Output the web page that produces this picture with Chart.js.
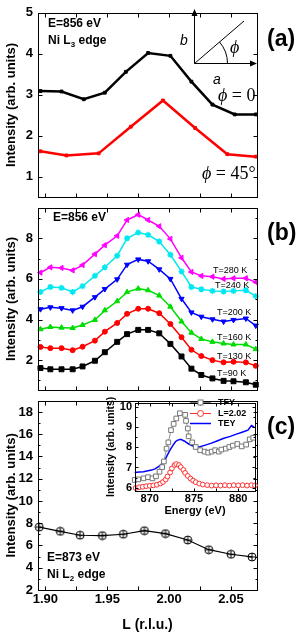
<!DOCTYPE html>
<html lang="en">
<head>
<meta charset="UTF-8">
<title>Ni L edge: intensity vs L</title>
<script src="https://cdn.jsdelivr.net/npm/chart.js"></script>
<style>
    body { margin: 0; background: #fff; }
    #fig {
        position: relative;
        width: 299px;
        height: 632px;
        overflow: hidden;
        font-family: "Liberation Sans", Arial, sans-serif;
        color: #000;
    }
    .box { position: absolute; }
    .t { position: absolute; transform: translateY(-50%); line-height: 1; white-space: nowrap; }
    .b12 { font-weight: bold; font-size: 12px; }
    .big { font-weight: bold; font-size: 23px; }
    .phi { font-family: "Liberation Serif", "Times New Roman", serif; font-size: 18px; }
    .ax { font-style: italic; font-size: 14px; }
    .tk { font-size: 9px; }
    .lg { font-weight: bold; font-size: 9px; }
    sub { font-size: 8px; vertical-align: baseline; position: relative; top: 3px; }
</style>
</head>
<body>
<div id="fig">
    <div class="box" style="left:0;top:0;width:299px;height:210px"><canvas id="panelA"></canvas></div>
    <div class="box" style="left:0;top:195px;width:299px;height:208px"><canvas id="panelB"></canvas></div>
    <div class="box" style="left:0;top:388px;width:299px;height:244px"><canvas id="panelC"></canvas></div>
    <div class="box" style="left:95px;top:393px;width:165px;height:135px"><canvas id="inset"></canvas></div>

    <!-- panel (a) -->
    <div class="t b12" style="left:48px;top:23px">E=856 eV</div>
    <div class="t b12" style="left:48px;top:40px">Ni L<sub>3</sub> edge</div>
    <div class="t big" style="left:267px;top:38px">(a)</div>
    <div class="t ax" style="left:180px;top:40px">b</div>
    <div class="t ax" style="left:213px;top:79px">a</div>
    <div class="t phi" style="left:230px;top:47px"><i>ϕ</i></div>
    <div class="t phi" style="left:218px;top:95px"><i>ϕ</i> = 0</div>
    <div class="t phi" style="left:202px;top:173px"><i>ϕ</i> = 45°</div>

    <!-- panel (b) -->
    <div class="t b12" style="left:53px;top:217px">E=856 eV</div>
    <div class="t big" style="left:267px;top:232px">(b)</div>
    <div class="t tk" style="left:213px;top:270px">T=280 K</div>
    <div class="t tk" style="left:215px;top:285px">T=240 K</div>
    <div class="t tk" style="left:217px;top:312px">T=200 K</div>
    <div class="t tk" style="left:217px;top:337px">T=160 K</div>
    <div class="t tk" style="left:217px;top:356px">T=130 K</div>
    <div class="t tk" style="left:217px;top:373px">T=90 K</div>

    <!-- panel (c) -->
    <div class="t b12" style="left:47px;top:557px">E=873 eV</div>
    <div class="t b12" style="left:47px;top:574px">Ni L<sub>2</sub> edge</div>
    <div class="t big" style="left:267px;top:426px">(c)</div>
    <div class="t lg" style="left:218px;top:402px">TFY</div>
    <div class="t lg" style="left:218px;top:413px">L=2.02</div>
    <div class="t lg" style="left:218px;top:423px">TEY</div>
</div>

<script>
    // ---- data ----
    // (a) E=856 eV, Ni L3 edge
    var L_A0 = [1.896, 1.913, 1.931, 1.948, 1.965, 1.983, 2.001, 2.018, 2.035, 2.053, 2.070];
    var I_A0 = [3.09, 3.08, 2.89, 3.05, 3.56, 4.02, 3.95, 3.32, 2.76, 2.52, 2.52];      // phi = 0
    var L_A45 = [1.896, 1.917, 1.943, 1.969, 1.995, 2.021, 2.047, 2.070];
    var I_A45 = [1.62, 1.52, 1.57, 2.22, 2.86, 2.19, 1.55, 1.49];                     // phi = 45

    // (b) E=856 eV, temperature series
    var L_B = [1.896, 1.904, 1.913, 1.922, 1.930, 1.940, 1.948, 1.958, 1.966, 1.975, 1.983,
               1.992, 2.001, 2.010, 2.018, 2.026, 2.035, 2.044, 2.052, 2.062, 2.070];
    var I_B90  = [1.61, 1.55, 1.55, 1.55, 1.69, 1.97, 2.39, 2.90, 3.28, 3.49, 3.49, 3.32, 2.80, 2.18, 1.58, 1.27, 1.10, 0.98, 0.96, 0.91, 0.79];
    var I_B130 = [2.65, 2.59, 2.59, 2.49, 2.66, 2.96, 3.40, 3.83, 4.28, 4.53, 4.53, 4.31, 3.78, 3.13, 2.51, 2.20, 2.00, 1.89, 1.92, 1.89, 1.72];
    var I_B160 = [3.52, 3.63, 3.60, 3.58, 3.73, 3.98, 4.45, 4.90, 5.35, 5.52, 5.44, 5.18, 4.63, 3.90, 3.35, 3.04, 2.90, 2.82, 2.77, 2.77, 2.54];
    var I_B200 = [4.51, 4.60, 4.56, 4.45, 4.63, 5.10, 5.50, 5.98, 6.70, 6.96, 6.87, 6.47, 6.00, 5.02, 4.35, 4.14, 4.01, 3.90, 3.98, 4.05, 3.70];
    var I_B240 = [5.36, 5.60, 5.56, 5.36, 5.64, 6.15, 6.57, 7.14, 8.00, 8.28, 8.17, 7.84, 7.19, 6.37, 5.60, 5.49, 5.41, 5.38, 5.41, 5.44, 5.15];
    var I_B280 = [6.31, 6.57, 6.54, 6.42, 6.68, 7.22, 7.66, 8.12, 8.90, 9.16, 8.90, 8.59, 7.97, 7.04, 6.34, 6.15, 6.11, 6.00, 6.03, 6.03, 5.84];

    // (c) E=873 eV, Ni L2 edge
    var L_C = [1.895, 1.912, 1.928, 1.946, 1.963, 1.980, 1.997, 2.015, 2.032, 2.050, 2.067];
    var I_C = [7.65, 7.27, 6.92, 6.89, 7.01, 7.33, 7.07, 6.49, 5.62, 5.21, 4.97];

    // inset of (c): energy scans
    var E_TFY = [868.3, 868.7, 869.3, 869.8, 870.3, 870.7, 871.1, 871.4, 871.6, 871.9, 872.1, 872.4,
                 872.7, 873.0, 873.4, 874.0, 874.1, 874.3, 874.4, 874.8, 875.2, 875.7, 876.2, 876.6,
                 877.0, 877.4, 877.8, 878.1, 878.6, 879.0, 879.4, 879.9, 880.4, 880.9, 881.3, 881.7];
    var I_TFY = [6.38, 6.41, 6.46, 6.52, 6.46, 6.56, 6.79, 7.02, 7.30, 7.94, 8.25, 8.86,
                 9.17, 9.44, 9.70, 9.62, 9.32, 8.94, 8.55, 8.25, 8.02, 7.86, 7.79, 7.74,
                 7.79, 7.86, 7.79, 7.89, 7.94, 8.02, 8.09, 8.17, 8.05, 8.14, 8.40, 8.48];
    var E_L202 = [868.4, 868.8, 869.2, 869.6, 870.0, 870.4, 870.8, 871.2, 871.5, 871.8, 872.0, 872.3,
                  872.5, 872.8, 873.0, 873.3, 873.5, 873.8, 874.0, 874.3, 874.6, 874.9, 875.2, 875.6,
                  876.0, 876.5, 877.0, 877.5, 878.0, 878.5, 879.0, 879.5, 880.0, 880.5, 881.0, 881.5, 881.9];
    var I_L202 = [5.98, 6.02, 6.04, 6.07, 6.09, 6.11, 6.14, 6.20, 6.28, 6.40, 6.55, 6.75,
                  6.95, 7.12, 7.17, 7.12, 7.02, 6.88, 6.73, 6.58, 6.45, 6.35, 6.27, 6.20,
                  6.15, 6.12, 6.10, 6.11, 6.10, 6.12, 6.10, 6.12, 6.11, 6.12, 6.10, 6.12, 6.11];
    var E_TEY = [868.3, 868.8, 869.3, 869.8, 870.2, 870.6, 870.9, 871.2, 871.5, 871.8, 872.0, 872.3,
                 872.6, 872.9, 873.1, 873.5, 873.9, 874.4, 875.0, 875.6, 876.1, 876.9, 877.6, 878.3,
                 879.1, 879.8, 880.6, 881.1, 881.5, 881.8];
    var I_TEY = [6.75, 6.77, 6.79, 6.84, 6.87, 6.93, 7.02, 7.12, 7.25, 7.45, 7.63, 7.88,
                 8.09, 8.28, 8.35, 8.40, 8.32, 8.17, 8.05, 8.02, 8.09, 8.20, 8.32, 8.44,
                 8.55, 8.66, 8.78, 8.86, 9.09, 9.01];

    // tick values
    var L_TICKS = [1.90, 1.95, 2.00, 2.05];
    var L_MINOR = [1.925, 1.975, 2.025];
    var A_TICKS = [1, 2, 3, 4, 5];
    var B_TICKS = [2, 4, 6, 8];
    var B_MINOR = [1, 3, 5, 7, 9];
    var C_TICKS = [2, 4, 6, 8, 10, 12, 14, 16, 18];
    var C_MINOR = [3, 5, 7, 9, 11, 13, 15, 17, 19];
    var E_TICKS = [870, 875, 880];
    var E_MINOR = [872.5, 877.5];
    var INSET_TICKS = [6, 7, 8, 9, 10];
    var INSET_MINOR = [6.5, 7.5, 8.5, 9.5];

    var FONT = '"Liberation Sans", Arial, sans-serif';
    Chart.defaults.color = '#000';
    Chart.defaults.font.family = FONT;

    function pts(xs, ys) {
        return xs.map(function(x, i) { return { x: x, y: ys[i] }; });
    }

    // box around the plot with inward ticks on all four sides
    var framePlugin = {
        id: 'frame',
        afterDatasetsDraw: function(chart) {
            var o = chart.options.plugins.frame;
            var ctx = chart.ctx, a = chart.chartArea;
            var xs = chart.scales.x, ys = chart.scales.y;
            var L = Math.round(a.left) + 0.5, R = Math.round(a.right) + 0.5;
            var T = Math.round(a.top) + 0.5, B = Math.round(a.bottom) + 0.5;
            ctx.save();
            ctx.strokeStyle = '#000';
            ctx.lineWidth = 1;
            ctx.strokeRect(L, T, R - L, B - T);
            ctx.beginPath();
            function xt(vals, len) {
                vals.forEach(function(v) {
                    var p = Math.round(xs.getPixelForValue(v)) + 0.5;
                    ctx.moveTo(p, T); ctx.lineTo(p, T + len);
                    ctx.moveTo(p, B); ctx.lineTo(p, B - len);
                });
            }
            function yt(vals, len) {
                vals.forEach(function(v) {
                    var p = Math.round(ys.getPixelForValue(v)) + 0.5;
                    ctx.moveTo(L, p); ctx.lineTo(L + len, p);
                    ctx.moveTo(R, p); ctx.lineTo(R - len, p);
                });
            }
            xt(o.xMajor, o.major); xt(o.xMinor, o.major);
            yt(o.yMajor, o.major); yt(o.yMinor, o.minor);
            ctx.stroke();
            ctx.restore();
        }
    };

    // little a-b axes sketch with the angle phi in panel (a)
    var sketchPlugin = {
        id: 'sketch',
        afterDraw: function(chart) {
            var c = chart.ctx, ox = 194.5, oy = 63.5;
            c.save();
            c.strokeStyle = '#000';
            c.fillStyle = '#000';
            c.lineWidth = 1;
            c.beginPath();
            c.moveTo(ox, oy); c.lineTo(ox, 15);
            c.moveTo(ox, oy); c.lineTo(251, oy);
            c.moveTo(ox, oy); c.lineTo(244, 21);
            c.moveTo(ox + 33, oy);
            c.arc(ox, oy, 33, 0, -0.71, true);
            c.stroke();
            c.beginPath();
            c.moveTo(ox, 9); c.lineTo(ox - 3, 16); c.lineTo(ox + 3, 16); c.closePath();
            c.moveTo(257, oy); c.lineTo(250, oy - 3); c.lineTo(250, oy + 3); c.closePath();
            c.fill();
            c.restore();
        }
    };

    // line + marker samples for the inset legend (text is in html)
    var insetLegend = {
        id: 'insetLegend',
        afterDraw: function(chart) {
            var c = chart.ctx;
            c.save();
            c.lineWidth = 1;
            c.strokeStyle = '#777';
            c.beginPath(); c.moveTo(95, 9.5); c.lineTo(116, 9.5); c.stroke();
            c.fillStyle = '#fff';
            c.fillRect(103, 7, 5, 5); c.strokeRect(103, 7, 5, 5);
            c.strokeStyle = '#ff3030';
            c.beginPath(); c.moveTo(95, 20.5); c.lineTo(116, 20.5); c.stroke();
            c.beginPath(); c.arc(105.5, 20.5, 3, 0, Math.PI * 2); c.fill(); c.stroke();
            c.strokeStyle = '#0000ff';
            c.lineWidth = 1.5;
            c.beginPath(); c.moveTo(95, 30.5); c.lineTo(116, 30.5); c.stroke();
            c.restore();
        }
    };

    // circle with a plus inside, marker of panel (c)
    var circPlus = document.createElement('canvas');
    circPlus.width = 10; circPlus.height = 10;
    (function() {
        var g = circPlus.getContext('2d');
        g.strokeStyle = '#000';
        g.lineWidth = 1;
        g.beginPath(); g.arc(5, 5, 4, 0, Math.PI * 2); g.stroke();
        g.beginPath(); g.moveTo(1, 5); g.lineTo(9, 5); g.moveTo(5, 1); g.lineTo(5, 9); g.stroke();
    })();

    function tickList(vals) {
        return function(s) { s.ticks = vals.map(function(v) { return { value: v }; }); };
    }

    function fixHeight(h) {
        return function(s) { s.height = h; };
    }

    var BASE = {
        responsive: true,
        maintainAspectRatio: false,
        animation: false,
        devicePixelRatio: 1
    };

    function mainPanel(id, datasets, ymin, ymax, yTicks, yMinor, showX, extra) {
        return new Chart(document.getElementById(id), {
            type: 'line',
            data: { datasets: datasets },
            options: Object.assign({}, BASE, {
                layout: { padding: { top: 7, right: 42, bottom: showX ? 0 : 8, left: 0 } },
                plugins: {
                    legend: { display: false },
                    tooltip: { enabled: false },
                    frame: { xMajor: L_TICKS, xMinor: L_MINOR, yMajor: yTicks, yMinor: yMinor, major: 4, minor: 2 }
                },
                scales: {
                    x: {
                        type: 'linear', min: 1.894, max: 2.071, display: showX,
                        grid: { display: false, drawTicks: false },
                        border: { display: false },
                        afterBuildTicks: tickList(L_TICKS),
                        afterFit: fixHeight(showX ? 42 : 0),
                        ticks: {
                            autoSkip: false, maxRotation: 0, padding: 2,
                            font: { size: 13, weight: 'bold' },
                            callback: function(v) { return v.toFixed(2); }
                        },
                        title: {
                            display: true, text: 'L (r.l.u.)',
                            font: { size: 14, weight: 'bold' },
                            padding: { top: 0, bottom: -2 }
                        }
                    },
                    y: {
                        type: 'linear', min: ymin, max: ymax,
                        grid: { display: false, drawTicks: false },
                        border: { display: false },
                        afterBuildTicks: tickList(yTicks),
                        afterFit: function(s) { s.width = 38; },
                        ticks: { autoSkip: false, padding: 5, font: { size: 13, weight: 'bold' } },
                        title: {
                            display: true, text: 'Intensity (arb. units)',
                            font: { size: 13, weight: 'bold' },
                            padding: { top: 4, bottom: 0 }
                        }
                    }
                }
            }),
            plugins: [framePlugin].concat(extra || [])
        });
    }

    function series(xs, ys, color, style, radius, width, rotation) {
        return {
            data: pts(xs, ys),
            borderColor: color,
            backgroundColor: color,
            borderWidth: width,
            pointStyle: style,
            pointRadius: radius,
            pointBorderWidth: style === 'star' ? 1.5 : 1,
            pointRotation: rotation || 0,
            tension: 0,
            clip: false
        };
    }

    // (a)
    mainPanel('panelA', [
        series(L_A0, I_A0, '#000000', 'rect', 2, 2.5),
        series(L_A45, I_A45, '#ff0000', 'rect', 2, 2.5)
    ], 0.5, 5, A_TICKS, [], false, [sketchPlugin]);

    // (b)
    mainPanel('panelB', [
        series(L_B, I_B90,  '#000000', 'rect', 3.5, 1.5),
        series(L_B, I_B130, '#ff0000', 'circle', 2.5, 1.5),
        series(L_B, I_B160, '#00dd00', 'triangle', 3, 1.5),
        series(L_B, I_B200, '#0000ff', 'triangle', 3, 1.5, 180),
        series(L_B, I_B240, '#00e8f0', 'star', 3, 1.5),
        series(L_B, I_B280, '#ff00ff', 'triangle', 3, 1.5, -90)
    ], 0.52, 9.5, B_TICKS, B_MINOR, false);

    // (c)
    mainPanel('panelC', [
        {
            data: pts(L_C, I_C),
            borderColor: '#000',
            borderWidth: 1.2,
            pointStyle: circPlus,
            pointRadius: 5,
            tension: 0,
            clip: false
        }
    ], 2, 19, C_TICKS, C_MINOR, true);

    // inset of (c)
    new Chart(document.getElementById('inset'), {
        type: 'line',
        data: {
            datasets: [
                {
                    data: pts(E_TFY, I_TFY), borderColor: '#777', borderWidth: 0.8,
                    pointStyle: 'rect', pointRadius: 3.3, pointBorderWidth: 1,
                    pointBackgroundColor: '#fff', pointBorderColor: '#777', tension: 0, clip: false
                },
                {
                    data: pts(E_L202, I_L202), borderColor: '#ff3030', borderWidth: 0.8,
                    pointStyle: 'circle', pointRadius: 2.4, pointBorderWidth: 1,
                    pointBackgroundColor: '#fff', pointBorderColor: '#ff3030', tension: 0, clip: false
                },
                {
                    data: pts(E_TEY, I_TEY), borderColor: '#0000ff', borderWidth: 1.5,
                    pointRadius: 0, tension: 0, clip: false
                }
            ]
        },
        options: Object.assign({}, BASE, {
            layout: { padding: { top: 2, right: 3, bottom: 0, left: 0 } },
            plugins: {
                legend: { display: false },
                tooltip: { enabled: false },
                frame: { xMajor: E_TICKS, xMinor: E_MINOR, yMajor: INSET_TICKS, yMinor: INSET_MINOR, major: 3, minor: 2 }
            },
            scales: {
                x: {
                    type: 'linear', min: 868.33, max: 881.9,
                    grid: { display: false, drawTicks: false },
                    border: { display: false },
                    afterBuildTicks: tickList(E_TICKS),
                    afterFit: fixHeight(37),
                    ticks: { autoSkip: false, maxRotation: 0, padding: 1, font: { size: 11, weight: 'bold' } },
                    title: {
                        display: true, text: 'Energy (eV)',
                        font: { size: 11, weight: 'bold' },
                        padding: { top: 0, bottom: 10 }
                    }
                },
                y: {
                    type: 'linear', min: 5.83, max: 10.23,
                    grid: { display: false, drawTicks: false },
                    border: { display: false },
                    afterBuildTicks: tickList(INSET_TICKS),
                    afterFit: function(s) { s.width = 40; },
                    ticks: { autoSkip: false, padding: 3, font: { size: 11, weight: 'bold' } },
                    title: {
                        display: true, text: 'Intensity (arb. units)',
                        font: { size: 10.5, weight: 'bold' },
                        padding: { top: 10, bottom: 0 }
                    }
                }
            }
        }),
        plugins: [framePlugin, insetLegend]
    });
</script>
</body>
</html>
